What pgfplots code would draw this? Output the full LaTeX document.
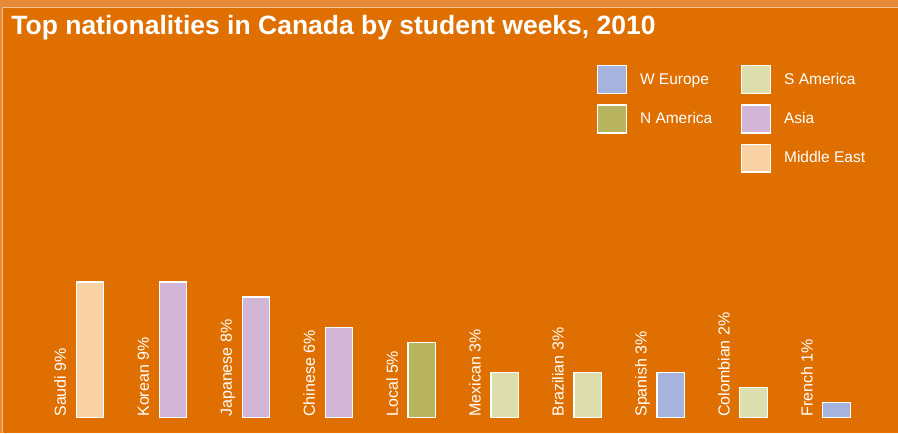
\documentclass[border=0pt]{standalone}
\usepackage{pgfplots}
\pgfplotsset{compat=1.18}
\usepackage{pgfplotstable}
\usepackage{fontspec}
\setmainfont{Liberation Sans}
\definecolor{bgorange}{HTML}{DF6F00}
\definecolor{stripor}{HTML}{E68A3A}
\definecolor{frameline}{HTML}{F3C08E}
\definecolor{weurope}{HTML}{A6B3DC}
\definecolor{namerica}{HTML}{B8B35F}
\definecolor{samerica}{HTML}{DCDFAD}
\definecolor{asia}{HTML}{D1B6D8}
\definecolor{mideast}{HTML}{F8D1A4}
\pgfplotstableread[col sep=comma]{
x,y,label
0,0,Saudi 9\%
1,0,Korean 9\%
2,0,Japanese 8\%
3,0,Chinese 6\%
4,0,Local 5\%
5,0,Mexican 3\%
6,0,Brazilian 3\%
7,0,Spanish 3\%
8,0,Colombian 2\%
9,0,French 1\%
}\labeltable
\begin{document}
\begin{tikzpicture}
\begin{axis}[
  scale only axis,
  width=898pt, height=433pt,
  xmin=-1.084, xmax=9.735,
  ymin=-0.993, ymax=27.68,
  axis line style={draw=none},
  ticks=none,
  clip=false,
  axis background/.style={fill=bgorange},
  mybar/.style={ybar, bar width=0.33, bar shift=0pt, draw=white, line width=1.2pt,
    legend image code/.code={\draw[##1, draw=white, line width=1.2pt] (0pt,-14pt) rectangle (29pt,14pt);}},
  legend columns=3,
  transpose legend,
  legend cell align=left,
  legend style={at={(rel axis cs:0.6648,0.8499)}, anchor=north west, draw=none, fill=none,
    inner sep=0pt, row sep=10pt, font=\fontsize{15.5}{18}\selectfont, text=white,
    nodes={inner sep=0pt},
    /tikz/every odd column/.append style={column sep=13pt},
    /tikz/every even column/.append style={column sep=13pt}},
]
\fill[stripor] (rel axis cs:0,1) rectangle (rel axis cs:1,0.9838);
\fill[stripor] (rel axis cs:0,1) rectangle (rel axis cs:0.00334,0);
\draw[frameline, line width=1pt] (rel axis cs:0.00334,0) -- (rel axis cs:0.00334,0.9838) -- (rel axis cs:1,0.9838);
\node[anchor=base west, text=white, inner sep=0pt, font=\fontsize{26.5}{31}\selectfont\bfseries]
  at (rel axis cs:0.0125,0.9192) {Top nationalities in Canada by student weeks, 2010};

\addplot[mybar, fill=weurope] coordinates {(7,3) (9,1)};
\addlegendentry{\makebox[88pt][l]{W Europe}}
\addplot[mybar, fill=namerica] coordinates {(4,5)};
\addlegendentry{\makebox[88pt][l]{N America}}
\addlegendimage{empty legend}
\addlegendentry{}
\addplot[mybar, fill=samerica] coordinates {(5,3) (6,3) (8,2)};
\addlegendentry{S America}
\addplot[mybar, fill=asia] coordinates {(1,9) (2,8) (3,6)};
\addlegendentry{Asia}
\addplot[mybar, fill=mideast] coordinates {(0,9)};
\addlegendentry{Middle East}

\addplot[forget plot, only marks, mark=none, draw=none,
  nodes near coords, point meta=explicit symbolic,
  nodes near coords style={rotate=90, anchor=base west, inner sep=0pt, yshift=24pt, xshift=1pt,
    text=white, font=\fontsize{16}{19}\selectfont}]
  table[x=x, y=y, meta=label] {\labeltable};
\end{axis}
\end{tikzpicture}
\end{document}
